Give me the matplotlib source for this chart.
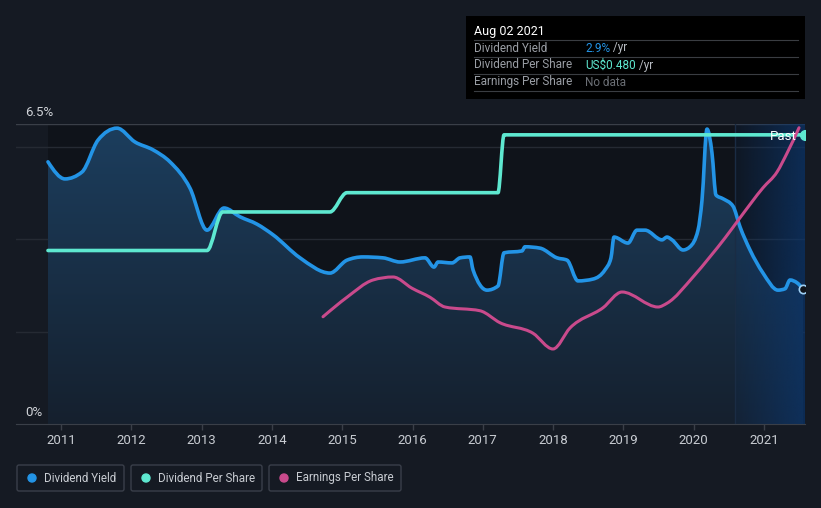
import numpy as np
import matplotlib
matplotlib.use("Agg")
import matplotlib.pyplot as plt
from matplotlib.patches import FancyBboxPatch, Circle, PathPatch
from matplotlib.path import Path

plt.rcParams['font.family'] = ['Roboto', 'DejaVu Sans']

# dividend yield (%)
yield_t = [2010.815, 2011.057, 2011.299, 2011.526, 2011.797, 2012.053, 2012.309, 2012.550,
           2012.835, 2013.077, 2013.319, 2013.546, 2013.788, 2014.016, 2014.400, 2014.826,
           2015.068, 2015.296, 2015.580, 2015.822, 2016.178, 2016.306, 2016.363, 2016.562,
           2016.676, 2016.818, 2016.861, 2017.060, 2017.216, 2017.302, 2017.558, 2017.600,
           2017.814, 2018.055, 2018.198, 2018.354, 2018.567, 2018.738, 2018.823, 2018.866,
           2019.065, 2019.193, 2019.307, 2019.549, 2019.620, 2019.691, 2019.848, 2019.947,
           2020.061, 2020.118, 2020.189, 2020.260, 2020.317, 2020.417, 2020.559, 2020.659,
           2020.801, 2020.986, 2021.199, 2021.299, 2021.370, 2021.469, 2021.555]
yield_v = [5.68, 5.31, 5.46, 6.15, 6.41, 6.11, 5.94, 5.68,
           5.11, 4.20, 4.68, 4.49, 4.33, 4.10, 3.60, 3.27,
           3.55, 3.62, 3.60, 3.51, 3.60, 3.40, 3.51, 3.49,
           3.60, 3.62, 3.34, 2.90, 2.99, 3.71, 3.75, 3.84,
           3.81, 3.60, 3.55, 3.10, 3.14, 3.34, 3.60, 4.05,
           3.92, 4.20, 4.20, 3.99, 4.05, 3.99, 3.77, 3.84,
           4.20, 4.85, 6.39, 5.87, 4.96, 4.88, 4.72, 4.27,
           3.77, 3.27, 2.90, 2.93, 3.12, 3.06, 2.93]

# dividend per share (US$ / yr)
dps_t = [2010.815, 2013.077, 2013.300, 2014.826, 2015.068, 2017.216, 2017.302, 2021.583]
dps_v = [0.288, 0.288, 0.352, 0.352, 0.384, 0.384, 0.480, 0.480]

# earnings per share
eps_t = [2014.727, 2015.068, 2015.438, 2015.723, 2015.993, 2016.249, 2016.462, 2016.960,
         2017.245, 2017.714, 2017.998, 2018.240, 2018.710, 2018.980, 2019.492, 2019.620,
         2019.990, 2020.232, 2020.445, 2020.659, 2020.986, 2021.185, 2021.327, 2021.498]
eps_v = [1.43, 1.69, 1.92, 1.96, 1.81, 1.69, 1.56, 1.51,
         1.35, 1.21, 1.00, 1.28, 1.55, 1.76, 1.56, 1.61,
         1.96, 2.23, 2.48, 2.75, 3.15, 3.36, 3.61, 3.95]

years = list(range(2011, 2022))
past_start = 2020.59
x_min, x_max = 2010.36, 2021.583

BG = '#151a23'
PLOT_BG = '#0f131a'
C_YIELD = '#2394e6'
C_DPS = '#5ee8d0'
C_EPS = '#c94a8c'


def monotone_path(x, y, close_to=None):
    # monotone-x cubic curve through the points, drawn as bezier segments
    x = np.asarray(x, float)
    y = np.asarray(y, float)
    n = len(x)
    h = np.diff(x)
    s = np.diff(y) / h
    m = np.zeros(n)
    for i in range(1, n - 1):
        p = (s[i - 1] * h[i] + s[i] * h[i - 1]) / (h[i - 1] + h[i])
        m[i] = (np.sign(s[i - 1]) + np.sign(s[i])) * min(abs(s[i - 1]), abs(s[i]), 0.5 * abs(p))
    m[0] = (3 * s[0] - m[1]) / 2
    m[-1] = (3 * s[-1] - m[-2]) / 2
    verts = [(x[0], y[0])]
    codes = [Path.MOVETO]
    for i in range(n - 1):
        d = h[i] / 3
        verts += [(x[i] + d, y[i] + m[i] * d), (x[i + 1] - d, y[i + 1] - m[i + 1] * d),
                  (x[i + 1], y[i + 1])]
        codes += [Path.CURVE4] * 3
    if close_to is not None:
        verts += [(x[-1], close_to), (x[0], close_to), (x[0], y[0])]
        codes += [Path.LINETO, Path.LINETO, Path.CLOSEPOLY]
    return Path(verts, codes)


fig = plt.figure(figsize=(8.21, 5.08), dpi=100, facecolor=BG)
W, H = 821, 508
ax = fig.add_axes([16 / W, (H - 424) / H, (805 - 16) / W, 300 / H])
ax.set_facecolor(BG)
ax.set_xlim(x_min, x_max)
ax.set_ylim(0, 6.5)

# darker plot background where data exists
ax.axvspan(yield_t[0], x_max, color=PLOT_BG, zorder=0, lw=0)

# gridlines
for g in [2, 4, 6]:
    ax.axhline(g, color='#252a33', lw=1, zorder=1)
ax.axhline(6.5, color='#3a3f48', lw=1, zorder=1)

# yield fill with vertical gradient
grad = np.linspace(1, 0, 256).reshape(-1, 1)
top = np.array([0x1c, 0x3e, 0x5e]) / 255
bot = np.array([0x15, 0x20, 0x2e]) / 255
img = top * grad[..., None] + bot * (1 - grad[..., None])
im = ax.imshow(img, extent=[yield_t[0], yield_t[-1], 0, 6.5], aspect='auto',
               origin='upper', zorder=2)
im.set_clip_path(monotone_path(yield_t, yield_v, close_to=0), transform=ax.transData)

# past-year highlight
hg = np.zeros((2, 256, 4))
hg[..., 0] = 12 / 255
hg[..., 1] = 55 / 255
hg[..., 2] = 110 / 255
hg[..., 3] = np.linspace(0.12, 0.7, 256)
ax.imshow(hg, extent=[past_start, x_max, 0, 6.5], aspect='auto', zorder=3)
ax.axvline(past_start, color='#1a2c44', lw=1, zorder=3)

ax.set_xlim(x_min, x_max)
ax.set_ylim(0, 6.5)

# lines
ax.add_patch(PathPatch(monotone_path(yield_t, yield_v), fc='none', ec=C_YIELD, lw=2.6,
                       zorder=6, capstyle='round', joinstyle='round'))

ax2 = ax.twinx()
ax2.set_ylim(0, 0.498)
ax2.add_patch(PathPatch(monotone_path(dps_t, dps_v), fc='none', ec=C_DPS, lw=2.6,
                        zorder=6, capstyle='round', joinstyle='round'))
ax2.plot([dps_t[-1]], [dps_v[-1]], 'o', ms=7, color=C_DPS, zorder=7)

ax3 = ax.twinx()
ax3.set_ylim(0, 4.0)
ax3.add_patch(PathPatch(monotone_path(eps_t, eps_v), fc='none', ec=C_EPS, lw=2.2,
                        zorder=5, capstyle='round', joinstyle='round'))

ax.plot([yield_t[-1]], [yield_v[-1]], 'o', ms=6, mfc=PLOT_BG, mec='#9fd0f5', mew=1.2,
        zorder=8)

for a in (ax2, ax3):
    a.set_xlim(x_min, x_max)
    a.axis('off')

for s in ['top', 'right', 'left']:
    ax.spines[s].set_visible(False)
ax.spines['bottom'].set_color('#3a3f48')
ax.set_yticks([])
ax.set_xticks(years)
ax.set_xticklabels([str(y) for y in years])
ax.tick_params(axis='x', colors='#3a3f48', length=4, width=1, labelcolor='#c8ccd2',
               labelsize=9.5, pad=3)

# y labels
fig.text(25 / W, 1 - 112 / H, '6.5%', color='#d0d3d8', fontsize=9.5, va='center')
fig.text(25 / W, 1 - 412 / H, '0%', color='#d0d3d8', fontsize=9.5, va='center')

# "Past" label sits above every line
fig.text(797 / W, 1 - 136 / H, 'Past', color='white', fontsize=9.5, ha='right', va='center',
         zorder=20)

# tooltip
tip = fig.add_axes([466 / W, 1 - 99 / H, (805 - 466) / W, 83 / H])
tip.set_xlim(466, 805)
tip.set_ylim(99, 16)
tip.set_facecolor('black')
tip.set_xticks([])
tip.set_yticks([])
for s in tip.spines.values():
    s.set_visible(False)
tip.text(474, 31, 'Aug 02 2021', color='white', fontsize=9, va='center')
rows = [('Dividend Yield', '2.9%', C_YIELD), ('Dividend Per Share', 'US$0.480', C_DPS),
        ('Earnings Per Share', 'No data', '#6b6f75')]
for i, (lab, val, col) in enumerate(rows):
    yy = 48 + i * 17
    tip.plot([474, 798], [yy - 8.5, yy - 8.5], color='#3a3d42', lw=0.8)
    tip.text(474, yy, lab, color='#9a9ea5', fontsize=8.5, va='center')
    t = tip.text(585, yy, val, color=col, fontsize=8.5, va='center')
    if val != 'No data':
        tip.annotate(' /yr', xycoords=t, xy=(1, 0.5), va='center', color='#b8bcc2', fontsize=8.5)
tip.plot([474, 798], [91, 91], color='#3a3d42', lw=0.8)

# legend
items = [('Dividend Yield', C_YIELD, 16, 125), ('Dividend Per Share', C_DPS, 130, 263),
         ('Earnings Per Share', C_EPS, 268, 402)]
lg = fig.add_axes([0, 0, 1, 1], facecolor='none')
lg.set_xlim(0, W)
lg.set_ylim(H, 0)
lg.axis('off')
for lab, col, x0, x1 in items:
    lg.add_patch(FancyBboxPatch((x0 + 1, 465), x1 - x0 - 2, 26,
                                boxstyle='round,pad=0,rounding_size=2',
                                fc='none', ec='#3a3f4a', lw=1))
    lg.add_patch(Circle((x0 + 16, 478), 4, color=col))
    lg.text(x0 + 28, 478, lab, color='#c8ccd2', fontsize=8.4, va='center')

fig.savefig('out.png', dpi=100, facecolor=BG)
